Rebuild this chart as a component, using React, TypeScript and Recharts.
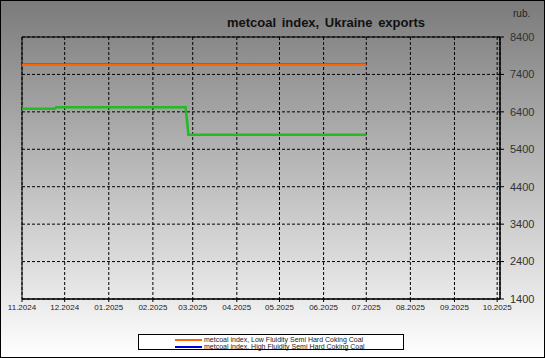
import React from 'react';
import { LineChart, Line, XAxis, YAxis, CartesianGrid, ReferenceArea } from 'recharts';

const d = (y: number, m: number, day: number) => Date.UTC(y, m - 1, day);

const xStart = d(2024, 11, 1);
const xEnd = d(2025, 10, 3);
const monthTicks = [
  d(2024, 11, 1), d(2024, 12, 1), d(2025, 1, 1), d(2025, 2, 1), d(2025, 3, 1), d(2025, 4, 1),
  d(2025, 5, 1), d(2025, 6, 1), d(2025, 7, 1), d(2025, 8, 1), d(2025, 9, 1), d(2025, 10, 1),
];
const yTicks = [1400, 2400, 3400, 4400, 5400, 6400, 7400, 8400];

const lowFluidity = [
  { t: d(2024, 11, 1), v: 7660 },
  { t: d(2025, 7, 1), v: 7660 },
];
const highFluidity = [
  { t: d(2024, 11, 1), v: 7660 },
  { t: d(2025, 7, 1), v: 7660 },
];
const thirdSeries = [
  { t: d(2024, 11, 1), v: 6480 },
  { t: d(2024, 11, 24), v: 6480 },
  { t: d(2024, 11, 25), v: 6520 },
  { t: d(2025, 2, 24), v: 6520 },
  { t: d(2025, 2, 26), v: 5790 },
  { t: d(2025, 7, 1), v: 5790 },
];

const legendItems = [
  { name: 'metcoal index, Low Fluidity Semi Hard Coking Coal', color: '#ff6600' },
  { name: 'metcoal index, High Fluidity Semi Hard Coking Coal', color: '#0000dd' },
];

const fmtMonth = (t: number) => {
  const dt = new Date(t);
  const m = dt.getUTCMonth() + 1;
  return `${m < 10 ? '0' + m : m}.${dt.getUTCFullYear()}`;
};

export default function App() {
  return (
    <div
      style={{
        position: 'absolute',
        left: 0,
        top: 0,
        width: 545,
        height: 358,
        boxSizing: 'border-box',
        border: '1px solid #000',
        background: 'linear-gradient(to bottom, #7b7b7b 0%, #ffffff 100%)',
        fontFamily: 'Arial, "Liberation Sans", sans-serif',
        overflow: 'hidden',
      }}
    >
      <div
        style={{
          position: 'absolute',
          left: 0,
          width: 650,
          top: 14,
          textAlign: 'center',
          fontWeight: 'bold',
          fontSize: 13,
          color: '#111',
          wordSpacing: 2,
        }}
      >
        metcoal index, Ukraine exports
      </div>
      <div style={{ position: 'absolute', left: 512, top: 7, fontSize: 10, color: '#222' }}>rub.</div>
      <div style={{ position: 'absolute', left: -1, top: -1 }}>
        <LineChart
          width={545}
          height={358}
          margin={{ top: 37, right: 0, left: 22, bottom: 0 }}
        >
          <CartesianGrid stroke="#000" strokeDasharray="3 2" strokeWidth={1} />
          <XAxis
            dataKey="t"
            type="number"
            scale="time"
            domain={[xStart, xEnd]}
            ticks={monthTicks}
            tickFormatter={fmtMonth}
            height={59}
            tickSize={3}
            tickMargin={2}
            interval={0}
            stroke="#000"
            tick={{ fontSize: 8, fill: '#222' }}
            allowDataOverflow
          />
          <YAxis
            orientation="right"
            type="number"
            domain={[1400, 8400]}
            ticks={yTicks}
            width={45}
            tickSize={4}
            tickMargin={6}
            stroke="#000"
            tick={{ fontSize: 11, fill: '#333', textAnchor: 'start' }}
            interval={0}
          />
          <ReferenceArea x1={xStart} x2={xEnd} y1={1400} y2={8400} fill="none" stroke="#000" strokeWidth={1} />
          <Line data={highFluidity} dataKey="v" stroke="#0000dd" strokeWidth={2.5} dot={false} isAnimationActive={false} />
          <Line data={lowFluidity} dataKey="v" stroke="#ff6600" strokeWidth={2.5} dot={false} isAnimationActive={false} />
          <Line data={thirdSeries} dataKey="v" stroke="#22bb22" strokeWidth={2.5} dot={false} isAnimationActive={false} />
        </LineChart>
      </div>
      <div
        style={{
          position: 'absolute',
          left: 137,
          top: 333,
          width: 266,
          height: 16,
          border: '1px solid #000',
          background: '#ffffff',
          boxSizing: 'border-box',
        }}
      >
        {legendItems.map((it, i) => (
          <div key={i} style={{ position: 'absolute', left: 36, top: 1 + i * 7, height: 7, display: 'flex', alignItems: 'center' }}>
            <div style={{ width: 27, height: 2, background: it.color, marginRight: 2 }} />
            <span style={{ fontSize: 7, lineHeight: '7px', color: '#222', whiteSpace: 'nowrap' }}>{it.name}</span>
          </div>
        ))}
      </div>
    </div>
  );
}
